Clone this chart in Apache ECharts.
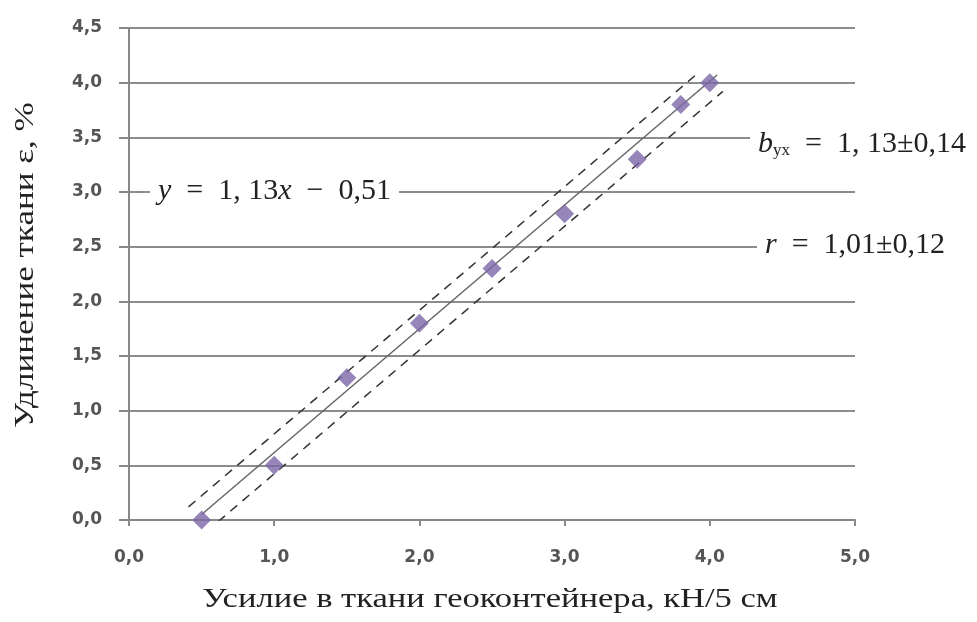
<!DOCTYPE html>
<html>
<head>
<meta charset="utf-8">
<script src="https://cdn.jsdelivr.net/npm/echarts@6/dist/echarts.min.js"></script>
<style>
  html, body { margin: 0; padding: 0; background: #fff; }
  #chart { width: 977px; height: 622px; }
</style>
</head>
<body>
<div id="chart"></div>
<script>
// измеренные точки
const forceX = [0.5, 1.0, 1.5, 2.0, 2.5, 3.0, 3.5, 3.8, 4.0];
const strainY = [0.0, 0.5, 1.3, 1.8, 2.3, 2.8, 3.3, 3.8, 4.0];

// линия регрессии и доверительные границы (концы отрезков)
const fitLine = [[0.5, 0.05], [4.05, 4.07]];
const upperBand = [[0.41, 0.12], [3.93, 4.1]];
const lowerBand = [[0.53, -0.11], [4.09, 3.92]];

const xTicks = ["0,0", "1,0", "2,0", "3,0", "4,0", "5,0"];
const yTicks = ["0,0", "0,5", "1,0", "1,5", "2,0", "2,5", "3,0", "3,5", "4,0", "4,5"];

const chart = echarts.init(document.getElementById("chart"));

const serif = "'Liberation Serif', 'DejaVu Serif', serif";
const labelFont = { fontFamily: "'DejaVu Sans', Verdana, sans-serif", fontSize: 17, fontWeight: "bold", color: "#555" };
const sp = "\u2002"; // пробел пошире, как в формулах

const annotation = (x, y, text) => ({
    type: "text",
    left: x,
    top: y,
    z: 10,
    style: {
        text: text,
        fontFamily: serif,
        fontSize: 30,
        fill: "#222",
        backgroundColor: "#fff",
        padding: [4, 8],
        rich: {
            i: { fontFamily: serif, fontSize: 30, fontStyle: "italic", color: "#222" },
            s: { fontFamily: serif, fontSize: 17, color: "#222", verticalAlign: "bottom", padding: [12, 0, 0, 0] },
        },
    },
});

// подписи осей (растянуты по ширине, как в оригинале)
const axisTitle = (x, y, text, rotation, stretch) => ({
    type: "text",
    x: x,
    y: y,
    rotation: rotation,
    scaleX: stretch,
    style: {
        text: text,
        fontFamily: serif,
        fontSize: 27,
        fill: "#222",
        align: "center",
        verticalAlign: "middle",
    },
});

chart.setOption({
    backgroundColor: "#fff",
    animation: false,
    grid: { left: 129, right: 122, top: 28, bottom: 102 },
    xAxis: {
        type: "value",
        min: 0,
        max: 5,
        interval: 1,
        axisLine: { show: true, lineStyle: { color: "#888", width: 2 } },
        axisTick: { show: true, inside: false, length: 6, lineStyle: { color: "#888", width: 2 } },
        axisLabel: Object.assign({ margin: 29, formatter: (v) => xTicks[Math.round(v)] }, labelFont),
        splitLine: { show: false },
    },
    yAxis: {
        type: "value",
        min: 0,
        max: 4.5,
        interval: 0.5,
        axisLine: { show: true, lineStyle: { color: "#888", width: 2 } },
        axisTick: { show: true, inside: false, length: 10, lineStyle: { color: "#888", width: 2 } },
        axisLabel: Object.assign({ margin: 27, formatter: (v) => yTicks[Math.round(v * 2)] }, labelFont),
        splitLine: { show: true, lineStyle: { color: "#8c8c8c", width: 2 } },
    },
    series: [
        {
            type: "line",
            data: fitLine,
            symbol: "none",
            lineStyle: { color: "#666", width: 1.5 },
            z: 3,
        },
        {
            type: "line",
            data: upperBand,
            symbol: "none",
            lineStyle: { color: "#333", width: 1.5, type: [9, 7] },
            z: 3,
        },
        {
            type: "line",
            data: lowerBand,
            symbol: "none",
            lineStyle: { color: "#333", width: 1.5, type: [9, 7] },
            z: 3,
        },
        {
            type: "scatter",
            data: forceX.map((x, i) => [x, strainY[i]]),
            symbol: "diamond",
            symbolSize: 19,
            itemStyle: { color: "#7a66a8" },
            z: 5,
        },
    ],
    graphic: [
        axisTitle(490, 600, "Усилие в ткани геоконтейнера, кН/5 см", 0, 1.28),
        axisTitle(26, 265, "Удлинение ткани ε, %", Math.PI / 2, 1.3),
        annotation(150, 172, "{i|y}" + sp + "=" + sp + "1, 13{i|x}" + sp + "−" + sp + "0,51"),
        annotation(750, 125, "{i|b}{s|yx}" + sp + "=" + sp + "1, 13±0,14"),
        annotation(757, 226, "{i|r}" + sp + "=" + sp + "1,01±0,12"),
    ],
});
</script>
</body>
</html>
